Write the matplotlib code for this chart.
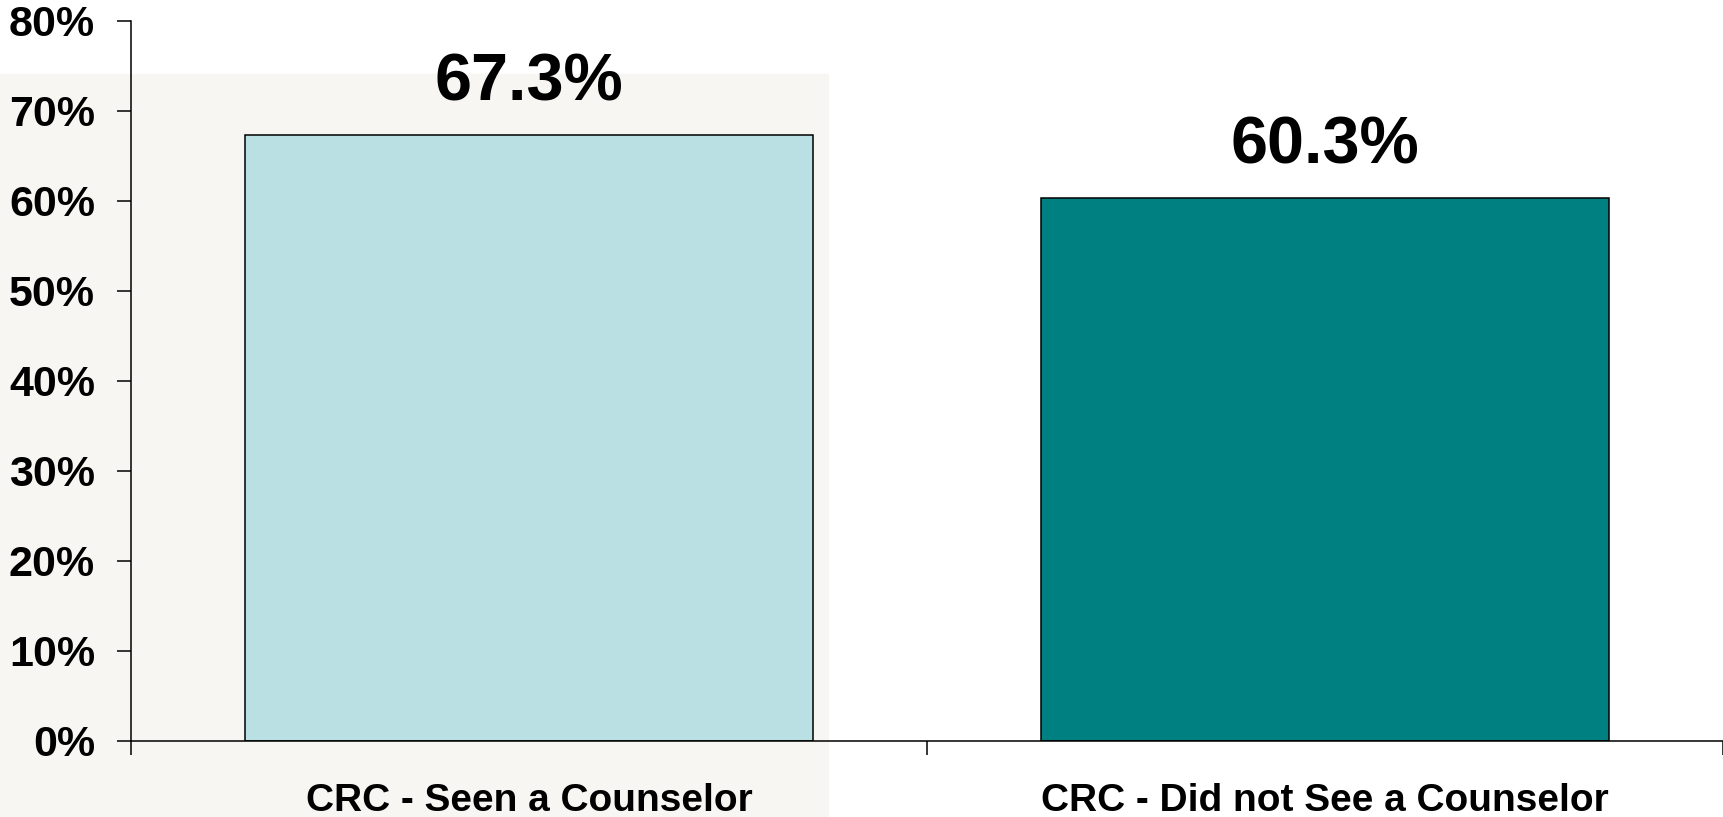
import matplotlib.pyplot as plt
import matplotlib.patches as mpatches
from matplotlib.ticker import FixedLocator, FuncFormatter

categories = ["CRC - Seen a Counselor", "CRC - Did not See a Counselor"]
values = [67.3, 60.3]
bar_colors = ["#bae0e3", "#008080"]
y_ticks = [0, 10, 20, 30, 40, 50, 60, 70, 80]

plt.rcParams['font.family'] = ['Liberation Sans', 'DejaVu Sans']
plt.rcParams['font.weight'] = 'bold'

fig = plt.figure(figsize=(17.24, 8.17), dpi=100)

# faint washed-out backdrop behind the left half of the slide
fig.patches.append(mpatches.Rectangle((0, 0), 0.48, 0.91, transform=fig.transFigure,
                                      color='#f7f6f2', zorder=-5))

ax = fig.add_axes([131 / 1724, 76 / 817, 1592 / 1724, 720 / 817])
ax.set_zorder(1)
ax.patch.set_alpha(0)

x = list(range(len(categories)))
ax.bar(x, values, width=0.714, color=bar_colors, edgecolor='black', linewidth=1.1, zorder=2)

for xi, v in zip(x, values):
    ax.text(xi, v + 2.3, f"{v:.1f}%", ha='center', va='bottom',
            fontsize=48, fontweight='bold')

ax.set_xlim(-0.5, 1.5)
ax.set_ylim(0, 80)

ax.yaxis.set_major_locator(FixedLocator(y_ticks))
ax.yaxis.set_major_formatter(FuncFormatter(lambda v, p: f"{int(v)}%"))
ax.tick_params(axis='y', direction='out', length=10, width=1.1, pad=16, labelsize=31)

ax.xaxis.set_major_locator(FixedLocator([-0.5, 0.5, 1.5]))
ax.xaxis.set_major_formatter(FuncFormatter(lambda v, p: ""))
ax.xaxis.set_minor_locator(FixedLocator(x))
ax.set_xticklabels(categories, minor=True)
ax.tick_params(axis='x', which='major', direction='out', length=10, width=1.1)
ax.tick_params(axis='x', which='minor', length=0, pad=30, labelsize=28)

for s in ['top', 'right']:
    ax.spines[s].set_visible(False)
for s in ['left', 'bottom']:
    ax.spines[s].set_linewidth(1.1)

fig.savefig('out.png', dpi=100)
